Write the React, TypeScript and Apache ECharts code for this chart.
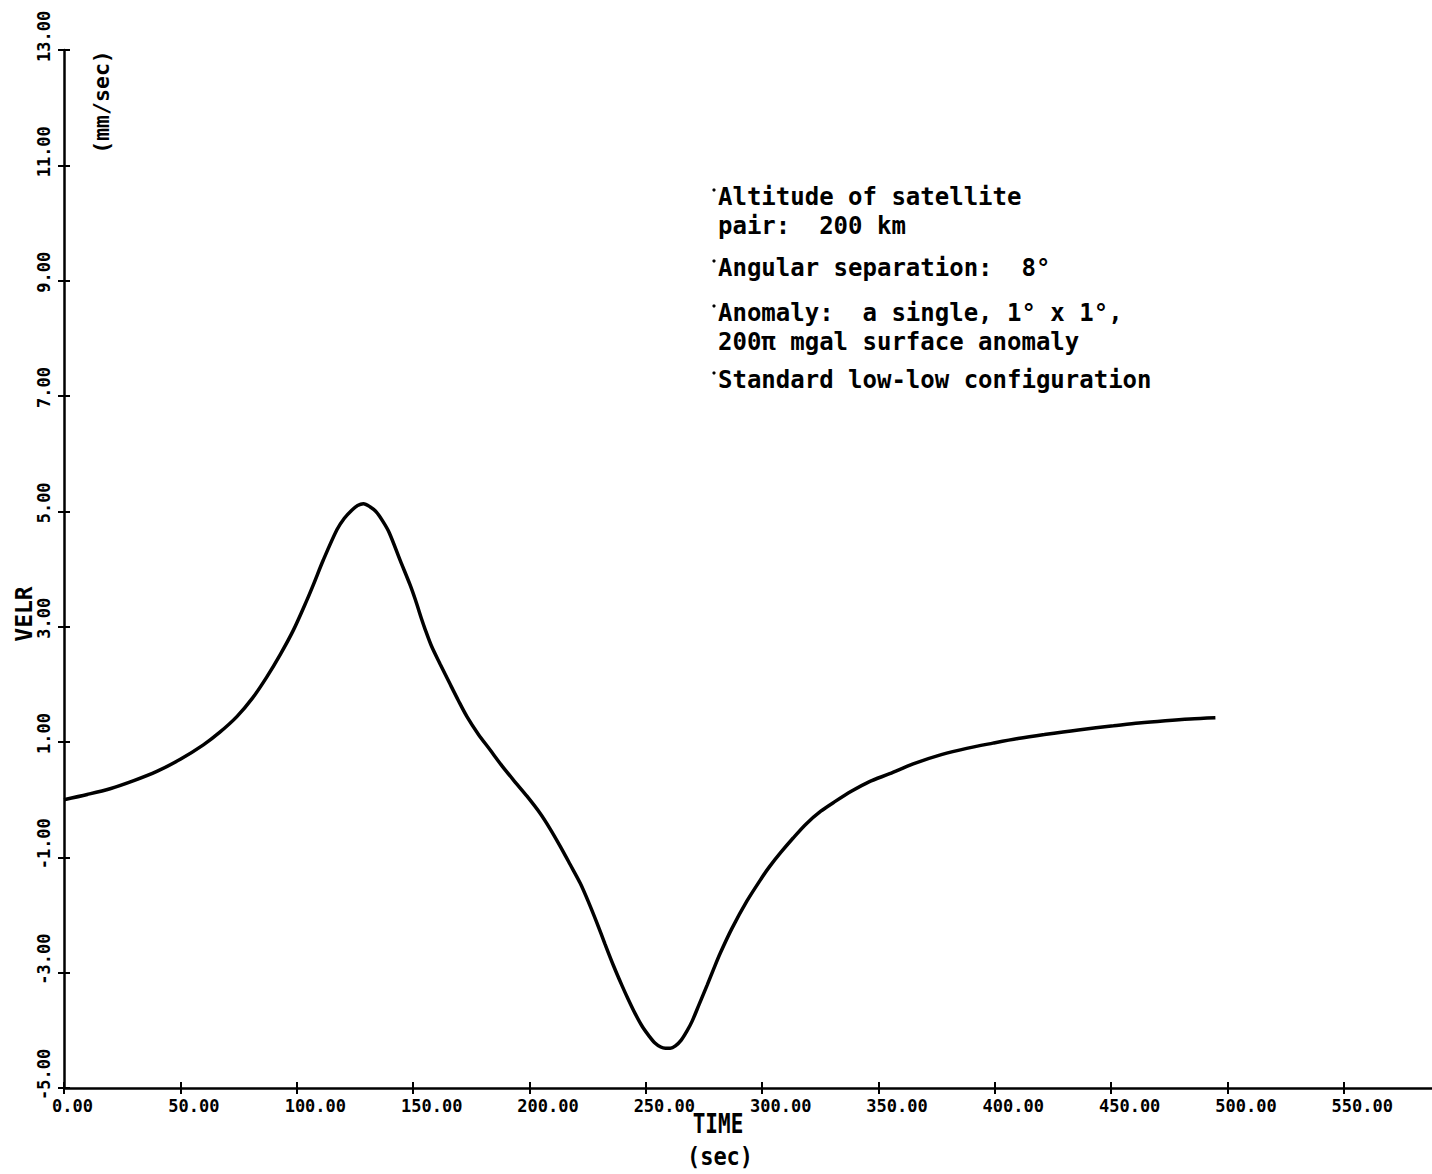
import React, { useEffect, useRef } from "react";
import * as echarts from "echarts";

// Relative velocity between the satellite pair over time
const TIME_S = [
  0, 10, 19.8, 30, 39.9, 50, 59.9, 67, 74.3, 81, 87.2, 93, 98.6, 104.4, 107.2,
  111.5, 117.3, 120.5, 123.7, 126.2, 128.7, 131.5, 134.2, 137, 139.8, 144.5,
  148.8, 151, 153.8, 155, 158, 161.7, 166, 169.5, 173.2, 178, 183.2, 188, 193.2,
  199, 204.7, 209, 213.3, 217.5, 221.9, 225.5, 229.1, 232.5, 236.2, 239.8,
  242.5, 245.5, 248.5, 251.5, 254, 256.5, 258.5, 260.6, 262.8, 265.3, 267.8,
  270, 273, 276.4, 279, 282.1, 287, 293.5, 300, 303.1, 308, 313.5, 319, 325.3,
  331.5, 338.6, 346, 354.9, 365, 377.1, 388, 399.3, 410, 421.4, 436, 451.1, 462,
  473.4, 484, 494.9,
];
const VELR = [
  0.0, 0.09, 0.19, 0.33, 0.49, 0.7, 0.95, 1.17, 1.44, 1.76, 2.13, 2.52, 2.94,
  3.46, 3.73, 4.16, 4.68, 4.88, 5.02, 5.1, 5.13, 5.08, 4.99, 4.83, 4.63, 4.15,
  3.72, 3.47, 3.12, 2.98, 2.66, 2.35, 2.0, 1.72, 1.44, 1.14, 0.86, 0.6, 0.34,
  0.06, -0.24, -0.51, -0.81, -1.12, -1.45, -1.78, -2.14, -2.5, -2.88, -3.22,
  -3.46, -3.71, -3.93, -4.1, -4.22, -4.29, -4.31, -4.31, -4.27, -4.17, -4.01,
  -3.84, -3.55, -3.22, -2.96, -2.66, -2.24, -1.76, -1.35, -1.17, -0.92, -0.66,
  -0.42, -0.2, -0.03, 0.15, 0.31, 0.45, 0.62, 0.78, 0.89, 0.98, 1.06, 1.13,
  1.21, 1.28, 1.33, 1.37, 1.4, 1.42,
];

const X_TICKS = [0, 50, 100, 150, 200, 250, 300, 350, 400, 450, 500, 550];
const Y_TICKS = [-5, -3, -1, 1, 3, 5, 7, 9, 11, 13];

const X_NAME = "TIME";
const X_UNIT = "(sec)";
const Y_NAME = "VELR";
const Y_UNIT = "(mm/sec)";

// one entry per bullet point; a bullet may wrap onto a second line
const NOTES = [
  ["Altitude of satellite", "pair:  200 km"],
  ["Angular separation:  8°"],
  ["Anomaly:  a single, 1° x 1°,", "200π mgal surface anomaly"],
  ["Standard low-low configuration"],
];

const MONO = '"DejaVu Sans Mono", "Liberation Mono", monospace';
const INK = "#000";

export default function App() {
  const ref = useRef<HTMLDivElement>(null);

  useEffect(() => {
    if (!ref.current) return;
    const chart = echarts.init(ref.current, null, { renderer: "svg" });

    // centre of the first line of each bullet and the line pitch inside it
    const noteFirstY = [197, 268, 313, 380];
    const notePitch = [29, 28, 28.5, 28];
    const noteX = 718;

    const graphic: any[] = [];
    NOTES.forEach((lines, i) => {
      const pitch = notePitch[i];
      graphic.push({
        type: "text",
        x: noteX,
        y: noteFirstY[i] - pitch / 2,
        style: {
          text: lines.join("\n"),
          fill: INK,
          fontFamily: MONO,
          fontWeight: "bold",
          fontSize: 24,
          lineHeight: pitch,
          align: "left",
          verticalAlign: "top",
        },
      });
      graphic.push({
        type: "circle",
        shape: { cx: noteX - 4, cy: noteFirstY[i] - 7, r: 1.6 },
        style: { fill: INK },
      });
    });

    graphic.push(
      {
        type: "text",
        x: 718,
        y: 1123,
        scaleY: 1.3,
        style: {
          text: X_NAME,
          fill: INK,
          fontFamily: MONO,
          fontWeight: "bold",
          fontSize: 21,
          align: "center",
          verticalAlign: "middle",
        },
      },
      {
        type: "text",
        x: 720,
        y: 1157,
        scaleY: 1.1,
        style: {
          text: X_UNIT,
          fill: INK,
          fontFamily: MONO,
          fontWeight: "bold",
          fontSize: 22,
          align: "center",
          verticalAlign: "middle",
        },
      },
      {
        type: "text",
        x: 24,
        y: 614,
        rotation: Math.PI / 2,
        style: {
          text: Y_NAME,
          fill: INK,
          fontFamily: MONO,
          fontWeight: "bold",
          fontSize: 23,
          align: "center",
          verticalAlign: "middle",
        },
      },
      {
        type: "text",
        x: 101,
        y: 102,
        rotation: Math.PI / 2,
        style: {
          text: Y_UNIT,
          fill: INK,
          fontFamily: MONO,
          fontWeight: "bold",
          fontSize: 21.5,
          align: "center",
          verticalAlign: "middle",
        },
      }
    );

    const tickStyle = { color: INK, width: 2 };
    const labelFont = {
      color: INK,
      fontFamily: MONO,
      fontWeight: "bold" as const,
      fontSize: 17,
    };

    chart.setOption({
      animation: false,
      backgroundColor: "#fff",
      grid: { left: 64, top: 50, width: 1368, height: 1038, containLabel: false },
      xAxis: [
        {
          type: "value",
          min: 0,
          max: 588,
          position: "bottom",
          axisLine: { show: true, onZero: false, lineStyle: { color: INK, width: 2.5 } },
          axisTick: { show: true, customValues: X_TICKS, length: 6, lineStyle: tickStyle },
          axisLabel: {
            customValues: X_TICKS,
            formatter: (v: number) => v.toFixed(2),
            align: "left",
            verticalAlign: "top",
            padding: [0, 0, 0, -12],
            margin: 9,
            ...labelFont,
          },
          splitLine: { show: false },
        },
        {
          type: "value",
          min: 0,
          max: 588,
          position: "bottom",
          axisLine: { show: false, onZero: false },
          axisTick: { show: true, inside: true, customValues: X_TICKS, length: 6, lineStyle: tickStyle },
          axisLabel: { show: false },
          splitLine: { show: false },
        },
      ],
      yAxis: [
        {
          type: "value",
          min: -5,
          max: 13,
          position: "left",
          axisLine: { show: true, onZero: false, lineStyle: { color: INK, width: 2.5 } },
          axisTick: { show: true, customValues: Y_TICKS, length: 6, lineStyle: tickStyle },
          axisLabel: {
            customValues: Y_TICKS,
            formatter: (v: number) => v.toFixed(2),
            rotate: 90,
            align: "left",
            verticalAlign: "bottom",
            padding: [0, 0, 0, -12],
            margin: 12,
            ...labelFont,
          },
          splitLine: { show: false },
        },
        {
          type: "value",
          min: -5,
          max: 13,
          position: "left",
          axisLine: { show: false, onZero: false },
          axisTick: { show: true, inside: true, customValues: Y_TICKS, length: 6, lineStyle: tickStyle },
          axisLabel: { show: false },
          splitLine: { show: false },
        },
      ],
      series: [
        {
          type: "line",
          xAxisIndex: 0,
          yAxisIndex: 0,
          data: TIME_S.map((t, i) => [t, VELR[i]]),
          symbol: "none",
          showSymbol: false,
          smooth: 0.3,
          lineStyle: { color: INK, width: 3.5 },
          silent: true,
        },
      ],
      graphic,
    });

    return () => chart.dispose();
  }, []);

  return (
    <div
      ref={ref}
      style={{
        position: "fixed",
        left: 0,
        top: 0,
        width: 1432,
        height: 1174,
        background: "#fff",
      }}
    />
  );
}
